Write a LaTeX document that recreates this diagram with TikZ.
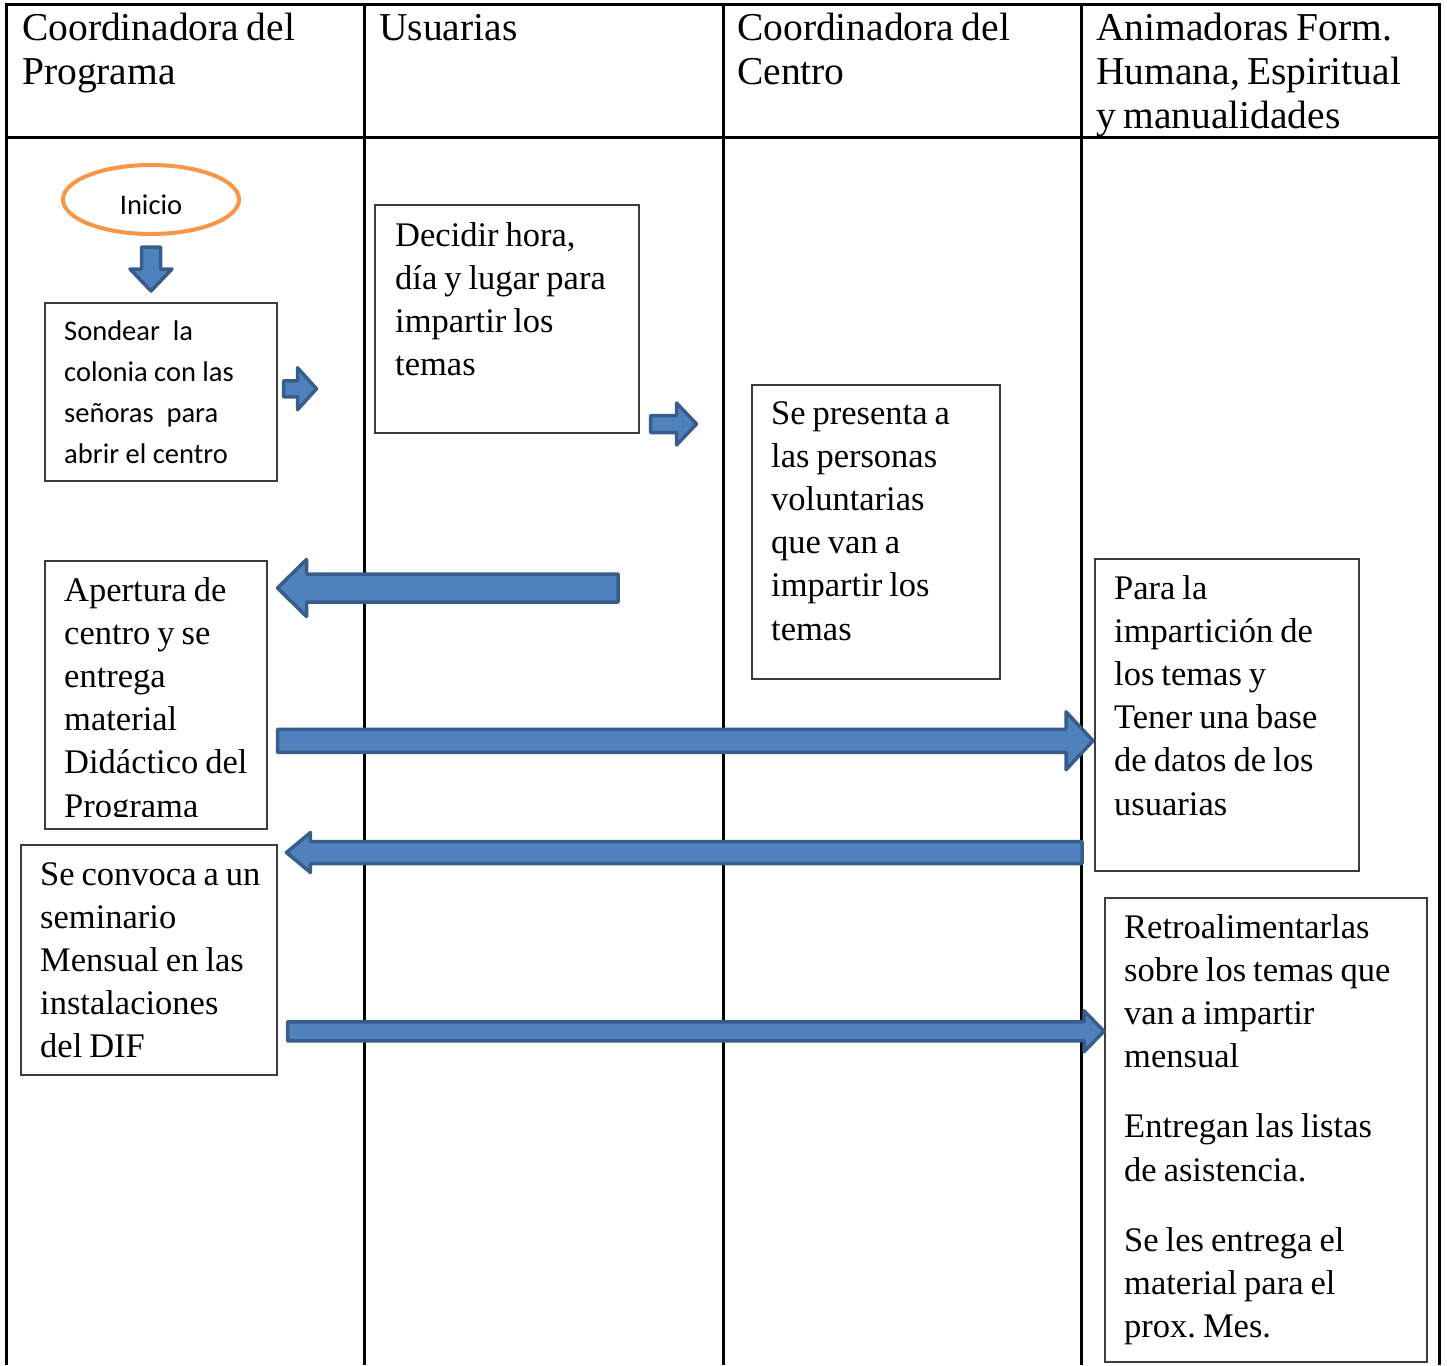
\documentclass[tikz,border=0pt]{standalone}
\usepackage{fontspec}
\setmainfont{Liberation Serif}
\newfontfamily\calibri{Carlito}
\usetikzlibrary{calc, shapes.geometric}
\frenchspacing

\definecolor{azulflecha}{HTML}{4F81BD}
\definecolor{bordeflecha}{HTML}{385D8A}
\definecolor{naranja}{HTML}{F79646}
\definecolor{grisbox}{HTML}{3C3C3C}

% block arrow: from, to, shaft half width, head half width, head length
\newcommand{\flechabloque}[5]{%
  \draw[flecha] let \p1=(#1), \p2=(#2),
      \n1={round(atan2(\y2-\y1,\x2-\x1))}, \n2={veclen(\x2-\x1,\y2-\y1)} in
    ([shift={(\p1)},rotate=\n1]0pt,#3pt) --
    ([shift={(\p1)},rotate=\n1]\n2-#5pt,#3pt) --
    ([shift={(\p1)},rotate=\n1]\n2-#5pt,#4pt) --
    ([shift={(\p1)},rotate=\n1]\n2,0pt) --
    ([shift={(\p1)},rotate=\n1]\n2-#5pt,-#4pt) --
    ([shift={(\p1)},rotate=\n1]\n2-#5pt,-#3pt) --
    ([shift={(\p1)},rotate=\n1]0pt,-#3pt) -- cycle;}

\begin{document}
\begin{tikzpicture}[x=1pt, y=-1pt,
  tabla/.style={line width=3pt},
  caja/.style={draw=grisbox, line width=1.5pt, anchor=north west, inner sep=0pt},
  texto/.style={anchor=base west, inner sep=0pt, text width=400pt, align=left,
    font=\fontsize{34.5}{43.2}\selectfont,
    execute at begin node={\spaceskip=7pt plus 1pt\relax}},
  titulo/.style={texto, font=\fontsize{39.5}{44}\selectfont,
    execute at begin node={\spaceskip=7.5pt plus 1pt\relax}},
  sans/.style={texto, font=\calibri\fontsize{28.5}{41.3}\selectfont,
    execute at begin node={\spaceskip=0pt\relax}},
  flecha/.style={fill=azulflecha, draw=bordeflecha, line width=3.5pt, line join=round}]
\useasboundingbox (0,0) rectangle (1447,1365);

% table
\draw[tabla] (6,1365) -- (6,4) -- (1439,4) -- (1439,1365);
\draw[tabla] (6,137) -- (1439,137);
\foreach \cx in {364,723,1081}
  \draw[tabla] (\cx,4) -- (\cx,1365);

\node[titulo] (coordinadora) at (22,40) {Coordinadora del\\Programa};
\node[titulo] (usuarias) at (379,40) {Usuarias};
\node[titulo] (centro) at (737,40) {Coordinadora del\\Centro};
\node[titulo] (animadoras) at (1096,40) {Animadoras Form.\\Humana, Espiritual\\y manualidades};

% boxes
\node[ellipse, draw=naranja, line width=4pt, minimum width=176pt, minimum height=69pt,
  inner sep=0pt, text height=31pt, font=\calibri\fontsize{28.5}{35}\selectfont]
  (inicio) at (151,199.5) {Inicio};
\node[caja, minimum width=232pt, minimum height=178pt] (sondear) at (44,302) {};
\node[caja, minimum width=264pt, minimum height=228pt] (decidir) at (374,204) {};
\node[caja, minimum width=248pt, minimum height=294pt] (presenta) at (751,384) {};
\node[caja, minimum width=222pt, minimum height=268pt] (apertura) at (44,560) {};
\node[caja, minimum width=264pt, minimum height=312pt] (para) at (1094,558) {};
\node[caja, minimum width=256pt, minimum height=230pt] (convoca) at (20,844) {};
\node[caja, minimum width=322pt, minimum height=464pt] (retro) at (1104,897) {};

\node[sans] (sondeartxt) at (64,340) {Sondear\ \ la\\colonia con las\\señoras\ \ para\\abrir el centro};
\node[texto] (decidirtxt) at (395,246) {Decidir hora,\\día y lugar para\\impartir los\\temas};
\node[texto] (presentatxt) at (771,424) {Se presenta a\\las personas\\voluntarias\\que van a\\impartir los\\temas};
\begin{scope}
  \clip (44,560) rectangle (266,816);
  \node[texto] (aperturatxt) at (64,601) {Apertura de\\centro y se\\entrega\\material\\Didáctico del\\Programa};
\end{scope}
\node[texto] (paratxt) at (1114,599) {Para la\\impartición de\\los temas y\\Tener una base\\de datos de los\\usuarias};
\node[texto] (convocatxt) at (40,885) {Se convoca a un\\seminario\\Mensual en las\\instalaciones\\del DIF};
\node[texto] (retrotxt) at (1124,938) {Retroalimentarlas\\sobre los temas que\\van a impartir\\mensual\\[27pt]Entregan las listas\\de asistencia.\\[27pt]Se les entrega el\\material para el\\prox. Mes.};

% arrows
\coordinate (colausr) at (618,588);
\flechabloque{$(inicio.south)+(0,11)$}{$(inicio.south |- sondear.north)+(0,-11)$}{9.5}{21}{22}
\flechabloque{$(sondear.east)+(6,-3)$}{$(sondear.east)+(39,-3)$}{8}{21}{19}
\flechabloque{$(decidir.south east)+(11,-9.5)$}{$(decidir.south east)+(57,-9.5)$}{8.5}{21}{20}
\flechabloque{colausr}{$(apertura.north east)+(10,28)$}{14}{28.5}{29}
\flechabloque{$(apertura.east)+(10,46)$}{$(para.west)+(-1,26)$}{11.5}{29}{27}
\flechabloque{$(para.south west)+(-12,-19)$}{$(convoca.north east)+(9,7)$}{11}{20}{24}
\flechabloque{$(convoca.east)+(10,71.5)$}{$(retro.west)+(0,-98.5)$}{9.5}{20.5}{20}
\end{tikzpicture}
\end{document}
